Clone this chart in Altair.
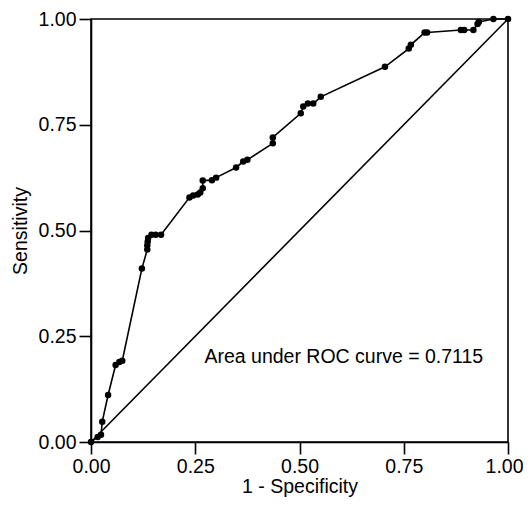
import altair as alt
import pandas as pd

fpr = [0, 0.016, 0.024, 0.027, 0.041, 0.059, 0.068, 0.075, 0.122, 0.135, 0.135, 0.136,
       0.137, 0.145, 0.155, 0.168, 0.236, 0.245, 0.256, 0.262, 0.268, 0.268, 0.29, 0.30,
       0.348, 0.365, 0.375, 0.436, 0.436, 0.503, 0.509, 0.52, 0.533, 0.551, 0.705, 0.762,
       0.767, 0.80, 0.806, 0.887, 0.895, 0.917, 0.927, 0.93, 0.965, 1.0]
tpr = [0, 0.012, 0.017, 0.048, 0.111, 0.182, 0.189, 0.192, 0.41, 0.455, 0.465, 0.474,
       0.482, 0.49, 0.49, 0.49, 0.578, 0.583, 0.585, 0.59, 0.60, 0.618, 0.619, 0.625,
       0.649, 0.663, 0.667, 0.706, 0.72, 0.777, 0.793, 0.80, 0.80, 0.816, 0.887, 0.93,
       0.939, 0.968, 0.968, 0.974, 0.974, 0.974, 0.988, 0.993, 1.0, 1.0]
diag_x = [0, 1]
diag_y = [0, 1]
tick_vals = [0, 0.25, 0.5, 0.75, 1]
note_text = ["Area under ROC curve = 0.7115"]
note_x = [0.272]
note_y = [0.201]

roc = pd.DataFrame({"fpr": fpr, "tpr": tpr, "idx": list(range(len(fpr)))})
diag = pd.DataFrame({"fpr": diag_x, "tpr": diag_y})
note = pd.DataFrame({"fpr": note_x, "tpr": note_y, "label": note_text})

xs = alt.Scale(domain=[0, 1], nice=False, zero=False)
ys = alt.Scale(domain=[0, 1], nice=False, zero=False)
xax = alt.Axis(values=tick_vals, format=".2f", title="1 - Specificity", grid=False,
               labelFlush=False, labelOverlap=False, labelBound=False,
               labelOffset={"condition": {"test": "datum.value == 1", "value": -4},
                            "value": 0})
yax = alt.Axis(values=tick_vals, format=".2f", title="Sensitivity", grid=False,
               labelFlush=False, labelOverlap=False, labelBound=False)

base_x = alt.X("fpr:Q", scale=xs, axis=xax)
base_y = alt.Y("tpr:Q", scale=ys, axis=yax)

line = alt.Chart(roc).mark_line(color="black", strokeWidth=1.6).encode(
    x=base_x, y=base_y, order="idx:Q")
pts = alt.Chart(roc).mark_circle(color="black", opacity=1, size=42).encode(
    x=base_x, y=base_y)
dline = alt.Chart(diag).mark_line(color="black", strokeWidth=1.6).encode(
    x=base_x, y=base_y)
txt = alt.Chart(note).mark_text(align="left", baseline="middle", fontSize=19.5,
                                font="Liberation Sans", color="black").encode(
    x=base_x, y=base_y, text="label:N")

chart = alt.layer(dline, line, pts, txt).properties(
    width=417, height=423,
    padding={"left": 83, "top": 11, "right": 15, "bottom": 57},
    autosize=alt.AutoSizeParams(type="none"),
).configure_view(
    stroke="black", strokeWidth=1.6
).configure_axis(
    domainColor="black", domainWidth=1.6, tickColor="black", tickWidth=1.6,
    tickSize=12, labelFont="Liberation Sans", titleFont="Liberation Sans",
    labelFontSize=19.5, titleFontSize=19.5, labelColor="black", titleColor="black",
    titleFontWeight="normal", labelPadding=3,
).configure_axisX(titlePadding=2).configure_axisY(titlePadding=8)

chart.save("out.html", embed_options={"renderer": "svg", "actions": False})
